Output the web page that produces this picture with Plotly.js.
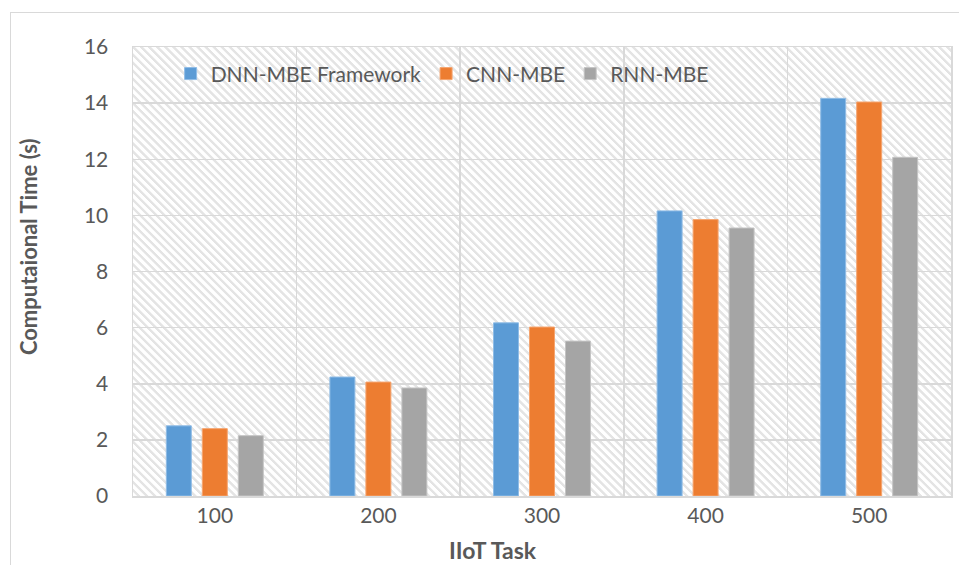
<!DOCTYPE html>
<html>
<head>
<meta charset="utf-8">
<script src="https://cdn.plot.ly/plotly-3.0.1.min.js"></script>
<style>
  html, body { margin: 0; padding: 0; background: #ffffff; }
  #wrap { position: relative; width: 959px; height: 565px; overflow: hidden; background: #ffffff; }
  #frame { position: absolute; left: 10px; top: 12px; width: 970px; height: 580px; border: 1.5px solid #d9d9d9; box-sizing: border-box; }
  #hatch { position: absolute; left: 133px; top: 47px; width: 818px; height: 449px;
    background: repeating-linear-gradient(45deg, #ffffff 0px, #ffffff 2.6px, #e4e4e4 3.2px, #e4e4e4 5.0px, #ffffff 5.7px); }
  #chart { position: absolute; left: 0; top: 0; width: 959px; height: 565px; }
</style>
</head>
<body>
<div id="wrap">
  <div id="frame"></div>
  <div id="hatch"></div>
  <div id="chart"></div>
</div>
<script>
const categories = ["100", "200", "300", "400", "500"];
const seriesNames = ["DNN-MBE Framework", "CNN-MBE", "RNN-MBE"];
const dnnValues = [2.5, 4.24, 6.17, 10.16, 14.17];
const cnnValues = [2.4, 4.06, 6.02, 9.85, 14.04];
const rnnValues = [2.15, 3.85, 5.52, 9.55, 12.07];
const yTickValues = [0, 2, 4, 6, 8, 10, 12, 14, 16];
const xTitle = "IIoT Task";
const yTitle = "Computaional Time (s)";
const colors = ["#5B9BD5", "#ED7D31", "#A5A5A5"];
const edgeColors = ["#8FBCE6", "#F5A46E", "#C4C4C4"];

const allValues = [dnnValues, cnnValues, rnnValues];
const font = "Lato, 'Open Sans', sans-serif";

const traces = allValues.map((vals, i) => ({
  type: "bar",
  name: seriesNames[i],
  x: categories,
  y: vals,
  marker: { color: colors[i], line: { color: edgeColors[i], width: 1 } },
  hoverinfo: "x+y+name"
}));

const layout = {
  width: 959,
  height: 565,
  margin: { l: 133, r: 8, t: 47, b: 69, pad: 0 },
  paper_bgcolor: "rgba(0,0,0,0)",
  plot_bgcolor: "rgba(0,0,0,0)",
  font: { family: font, size: 21, color: "#595959" },
  barmode: "group",
  bargap: 0.34,
  bargroupgap: 0.306,
  showlegend: true,
  legend: {
    orientation: "h",
    x: 0.046, xanchor: "left",
    y: 0.94, yanchor: "middle",
    bgcolor: "rgba(0,0,0,0)",
    font: { family: font, size: 21, color: "#595959" },
    traceorder: "normal",
    itemwidth: 30
  },
  annotations: [
    {
      text: "<b>" + yTitle + "</b>",
      xref: "paper", yref: "paper",
      x: -0.127, y: 0.5546,
      xanchor: "center", yanchor: "middle",
      textangle: -90,
      showarrow: false,
      font: { family: font, size: 22, color: "#595959" }
    },
    {
      text: "<b>" + xTitle + "</b>",
      xref: "paper", yref: "paper",
      x: 0.440, y: -0.120,
      xanchor: "center", yanchor: "middle",
      showarrow: false,
      font: { family: font, size: 23, color: "#595959" }
    }
  ],
  xaxis: {
    type: "category",
    tickson: "boundaries",
    showgrid: true,
    gridcolor: "#d9d9d9",
    gridwidth: 1.5,
    showline: true,
    linecolor: "#d9d9d9",
    linewidth: 1.5,
    mirror: true,
    ticks: "",
    tickfont: { family: font, size: 21, color: "#595959" },
    fixedrange: true
  },
  yaxis: {
    range: [0, 16],
    tickvals: yTickValues,
    ticktext: yTickValues.map(String),
    showgrid: true,
    gridcolor: "#d9d9d9",
    gridwidth: 1.5,
    zeroline: false,
    showline: true,
    linecolor: "#d9d9d9",
    linewidth: 1.5,
    mirror: true,
    ticks: "",
    ticklabelstandoff: 19,
    tickfont: { family: font, size: 21, color: "#595959" },
    fixedrange: true
  }
};

Plotly.newPlot("chart", traces, layout, { displayModeBar: false, staticPlot: true });
</script>
</body>
</html>
